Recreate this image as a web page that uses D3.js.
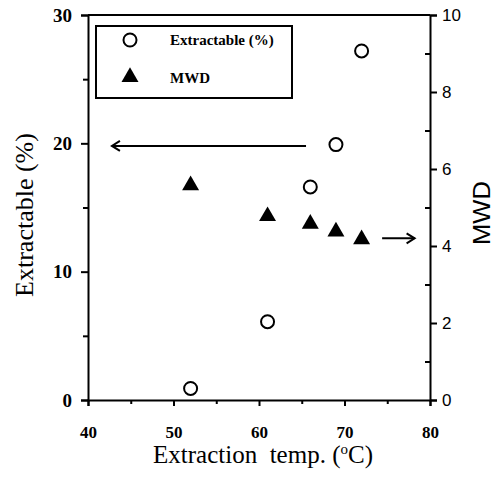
<!DOCTYPE html>
<html>
<head>
<meta charset="utf-8">
<script src="https://cdn.jsdelivr.net/npm/d3@7"></script>
<style>
  body { margin: 0; background: #fff; }
  svg { display: block; }
</style>
</head>
<body>
<svg id="chart" width="500" height="477"></svg>
<script>
const temps = [52, 61, 66, 69, 72];
const extractable = [0.9, 6.1, 16.6, 19.9, 27.2];
const mwd = [5.6, 4.8, 4.6, 4.4, 4.2];
const xTicks = [40, 50, 60, 70, 80];
const leftTicks = [0, 10, 20, 30];
const rightTicks = [0, 2, 4, 6, 8, 10];

const svg = d3.select("#chart");
const margin = { left: 88, right: 70, top: 15, bottom: 77 };
const width = 500 - margin.left - margin.right;
const height = 477 - margin.top - margin.bottom;

const x = d3.scaleLinear().domain([40, 80]).range([margin.left, margin.left + width]);
const yL = d3.scaleLinear().domain([0, 30]).range([margin.top + height, margin.top]);
const yR = d3.scaleLinear().domain([0, 10]).range([margin.top + height, margin.top]);

const serif = "'Liberation Serif', 'Times New Roman', serif";
const sans = "'Liberation Sans', Arial, sans-serif";

// Frame top line
svg.append("line")
    .attr("x1", x(40)).attr("x2", x(80))
    .attr("y1", yL(30)).attr("y2", yL(30))
    .attr("stroke", "#000").attr("stroke-width", 2);

// Bottom axis
const gx = svg.append("g")
    .attr("transform", `translate(0,${yL(0)})`)
    .call(d3.axisBottom(x).tickValues(xTicks).tickSize(6).tickPadding(20).tickFormat(d3.format("d")));
svg.append("g")
    .attr("transform", `translate(0,${yL(0)})`)
    .call(d3.axisBottom(x).tickValues([45, 55, 65, 75]).tickSize(4).tickFormat(""))
    .call(g => g.select(".domain").remove());
gx.selectAll("text").attr("font-family", serif).attr("font-weight", "bold").attr("font-size", 17);

// Left axis
const gl = svg.append("g")
    .attr("transform", `translate(${x(40)},0)`)
    .call(d3.axisLeft(yL).tickValues(leftTicks).tickSize(7).tickPadding(9).tickFormat(d3.format("d")));
svg.append("g")
    .attr("transform", `translate(${x(40)},0)`)
    .call(d3.axisLeft(yL).tickValues([5, 15, 25]).tickSize(5).tickFormat(""))
    .call(g => g.select(".domain").remove());
gl.selectAll("text").attr("font-family", serif).attr("font-weight", "bold").attr("font-size", 19);

// Right axis
const gr = svg.append("g")
    .attr("transform", `translate(${x(80)},0)`)
    .call(d3.axisRight(yR).tickValues(rightTicks).tickSize(7).tickPadding(5).tickFormat(d3.format("d")));
svg.append("g")
    .attr("transform", `translate(${x(80)},0)`)
    .call(d3.axisLeft(yR).tickValues([1, 3, 5, 7, 9]).tickSize(5).tickFormat(""))
    .call(g => g.select(".domain").remove());
gr.selectAll("text").attr("font-family", sans).attr("font-size", 17);

svg.selectAll(".domain, .tick line").attr("stroke", "#000").attr("stroke-width", 2);

// Axis titles
svg.append("text")
    .attr("transform", `translate(33,215) rotate(-90)`)
    .attr("text-anchor", "middle")
    .attr("font-family", serif).attr("font-size", 26)
    .text("Extractable (%)");

svg.append("text")
    .attr("transform", `translate(490,213) rotate(-90)`)
    .attr("text-anchor", "middle")
    .attr("font-family", sans).attr("font-size", 23)
    .attr("textLength", 64).attr("lengthAdjust", "spacingAndGlyphs")
    .text("MWD");

const xl = svg.append("text")
    .attr("x", 263).attr("y", 463)
    .attr("text-anchor", "middle")
    .attr("font-family", serif).attr("font-size", 25)
    .attr("xml:space", "preserve")
    .style("white-space", "pre");
xl.append("tspan").text("Extraction  temp. (");
xl.append("tspan").attr("font-size", 15).attr("dy", -9).text("o");
xl.append("tspan").attr("dy", 9).text("C)");

// Arrows
svg.append("path")
    .attr("d", `M${x(65.5)},${yL(19.8)}H${x(42.8)}`)
    .attr("stroke", "#000").attr("stroke-width", 2).attr("fill", "none");
svg.append("path")
    .attr("d", `M${x(42.8) + 8},${yL(19.8) - 5}L${x(42.8)},${yL(19.8)}L${x(42.8) + 8},${yL(19.8) + 5}`)
    .attr("stroke", "#000").attr("stroke-width", 2).attr("fill", "none");
svg.append("path")
    .attr("d", `M${x(74.4)},${yR(4.2)}H${x(78.2)}`)
    .attr("stroke", "#000").attr("stroke-width", 2).attr("fill", "none");
svg.append("path")
    .attr("d", `M${x(78.2) - 8},${yR(4.2) - 5}L${x(78.2)},${yR(4.2)}L${x(78.2) - 8},${yR(4.2) + 5}`)
    .attr("stroke", "#000").attr("stroke-width", 2).attr("fill", "none");

// Data
const tri = d3.symbol().type(d3.symbolTriangle).size(125);

svg.selectAll(".ext")
    .data(temps.map((t, i) => ({ t, v: extractable[i] })))
    .join("circle")
    .attr("class", "ext")
    .attr("cx", d => x(d.t)).attr("cy", d => yL(d.v))
    .attr("r", 6.5)
    .attr("fill", "#fff").attr("stroke", "#000").attr("stroke-width", 2);

svg.selectAll(".mwd")
    .data(temps.map((t, i) => ({ t, v: mwd[i] })))
    .join("path")
    .attr("class", "mwd")
    .attr("d", tri)
    .attr("transform", d => `translate(${x(d.t)},${yR(d.v) + 1})`)
    .attr("fill", "#000");

// Legend
const lg = svg.append("g");
lg.append("rect")
    .attr("x", 96).attr("y", 26).attr("width", 196).attr("height", 72)
    .attr("fill", "none").attr("stroke", "#000").attr("stroke-width", 2);
lg.append("circle")
    .attr("cx", 130).attr("cy", 40).attr("r", 6.5)
    .attr("fill", "#fff").attr("stroke", "#000").attr("stroke-width", 2);
lg.append("path")
    .attr("d", tri)
    .attr("transform", "translate(130,77)")
    .attr("fill", "#000");
lg.append("text")
    .attr("x", 170).attr("y", 45)
    .attr("font-family", serif).attr("font-weight", "bold").attr("font-size", 15)
    .text("Extractable (%)");
lg.append("text")
    .attr("x", 170).attr("y", 83)
    .attr("font-family", serif).attr("font-weight", "bold").attr("font-size", 15)
    .text("MWD");
</script>
</body>
</html>
